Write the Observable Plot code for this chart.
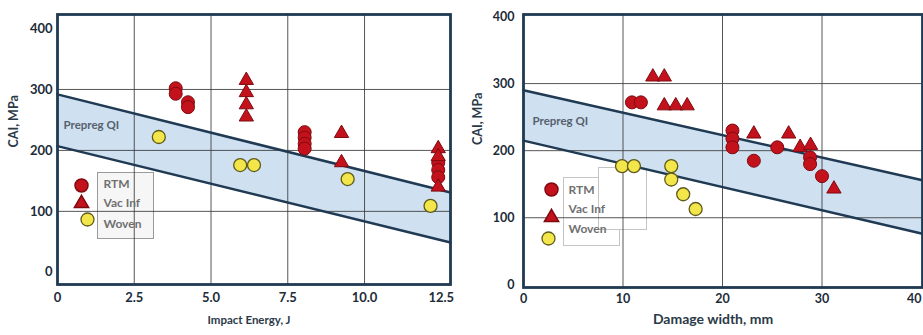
<!DOCTYPE html>
<html>
<head>
<meta charset="utf-8">
<script src="https://cdn.jsdelivr.net/npm/d3@7"></script>
<script src="https://cdn.jsdelivr.net/npm/@observablehq/plot@0.6"></script>
<style>
  html, body { margin: 0; padding: 0; background: #ffffff; }
  #wrap { position: relative; width: 923px; height: 335px; display: flex; }
  .panel { position: relative; z-index: 1; height: 335px; }
  .box { position: absolute; z-index: 0; box-sizing: border-box; }
</style>
</head>
<body>
<div id="wrap">
  <div class="box" style="left:97px;top:172px;width:57px;height:67px;border:1px solid #9a9a9a;background:#f6f6f6;"></div>
  <div class="box" style="left:563px;top:177px;width:57px;height:69px;border:1px solid #c4c4c4;background:#ffffff;"></div>
  <div class="box" style="left:598px;top:167px;width:49px;height:63px;border:1px solid #c4c4c4;background:#ffffff;"></div>
  <div class="box" style="left:599px;top:178px;width:20px;height:51px;background:#ffffff;"></div>
  <div id="left" class="panel" style="width:460px"></div>
  <div id="right" class="panel" style="width:463px"></div>
</div>
<script>
// ---------- Left panel: CAI vs impact energy ----------
const leftXTicks = [0, 2.5, 5, 7.5, 10, 12.5];
const leftYTicks = [0, 100, 200, 300, 400];
const leftGridX = [2.5, 5, 7.5, 10];
const leftGridY = [100, 200, 300];
const leftBandX = [0, 12.8];
const leftBandUpper = [292, 131];
const leftBandLower = [207, 49];
const leftRTMx = [3.85, 3.85, 4.25, 4.25, 8.05, 8.05, 8.05, 8.05, 12.4, 12.4, 12.4];
const leftRTMy = [302, 293, 279, 271, 230, 221, 211, 203, 180, 168, 156];
const leftVacX = [6.15, 6.15, 6.15, 6.15, 9.25, 9.25, 12.4, 12.4, 12.4];
const leftVacY = [315, 295, 275, 255, 228, 180, 203, 190, 140];
const leftWovenX = [3.3, 5.95, 6.4, 9.45, 12.15];
const leftWovenY = [222, 176, 176, 153, 109];

// ---------- Right panel: CAI vs damage width ----------
const rightXTicks = [0, 10, 20, 30, 40];
const rightYTicks = [0, 100, 200, 300, 400];
const rightGridX = [10, 20, 30];
const rightGridY = [100, 200, 300];
const rightBandX = [0, 40.1];
const rightBandUpper = [290, 156];
const rightBandLower = [215, 76];
const rightRTMx = [10.9, 11.8, 21.0, 21.0, 21.0, 23.15, 25.5, 28.8, 28.8, 30.0];
const rightRTMy = [272, 272, 230, 218, 205, 185, 205, 190, 180, 162];
const rightVacX = [13.0, 14.15, 14.15, 15.3, 16.45, 23.15, 26.65, 27.8, 28.85, 31.2];
const rightVacY = [310, 310, 267, 267, 267, 225, 225, 205, 208, 143];
const rightWovenX = [9.9, 11.1, 14.85, 14.85, 16.05, 17.3];
const rightWovenY = [177, 177, 177, 157, 135, 113];

const legendLabels = ["RTM", "Vac Inf", "Woven"];
const bandLabel = "Prepreg QI";

const NAVY = "#1f3a52";
const BAND = "#cfe0f1";
const RED = "#c4121c", RED_S = "#7e0a10";
const YEL = "#f2e64a", YEL_S = "#5f5a1c";
const GRID = "#3a3a3a";

function pts(xs, ys) { return xs.map((x, i) => ({x, y: ys[i]})); }
function band(xs, up, lo) { return xs.map((x, i) => ({x, up: up[i], lo: lo[i]})); }

function panel(cfg) {
  const bd = band(cfg.bandX, cfg.bandUpper, cfg.bandLower);
  const L = cfg.leg;
  return Plot.plot({
    width: cfg.width, height: 335,
    marginLeft: cfg.ml, marginRight: cfg.mr, marginTop: 14, marginBottom: cfg.mb,
    style: {fontFamily: "Lato, 'Open Sans', sans-serif", fontSize: cfg.tickFont, fontWeight: "bold",
            color: "#1d2b38", background: "transparent", overflow: "visible"},
    x: {domain: cfg.xDomain, ticks: cfg.xTicks, tickFormat: cfg.xFmt, tickSize: 0, tickPadding: cfg.xPad, label: null},
    y: {domain: cfg.yDomain, ticks: cfg.yTicks, tickSize: 0, tickPadding: cfg.yPad, label: null},
    marks: [
      Plot.areaY(bd, {x: "x", y1: "lo", y2: "up", fill: BAND}),
      Plot.ruleX(cfg.gridX, {stroke: GRID, strokeWidth: 1, strokeOpacity: 0.85}),
      Plot.ruleY(cfg.gridY, {stroke: GRID, strokeWidth: 1, strokeOpacity: 0.85}),
      Plot.line(bd, {x: "x", y: "up", stroke: NAVY, strokeWidth: 2.5}),
      Plot.line(bd, {x: "x", y: "lo", stroke: NAVY, strokeWidth: 2.5}),
      Plot.frame({stroke: NAVY, strokeWidth: 2.8}),
      Plot.dot(pts(cfg.wovenX, cfg.wovenY), {x: "x", y: "y", r: 6.5, fill: YEL, stroke: YEL_S, strokeWidth: 1.3}),
      Plot.dot(pts(cfg.rtmX, cfg.rtmY), {x: "x", y: "y", r: 6.5, fill: RED, stroke: RED_S, strokeWidth: 1}),
      Plot.dot(pts(cfg.vacX, cfg.vacY), {x: "x", y: "y", r: 5.3, symbol: "triangle", fill: RED, stroke: RED_S, strokeWidth: 1}),
      // legend markers
      Plot.dot([legendLabels[0]], {frameAnchor: "top-left", dx: L.mx, dy: L.m0, r: 6.5, fill: RED, stroke: RED_S}),
      Plot.dot([legendLabels[1]], {frameAnchor: "top-left", dx: L.mx, dy: L.m1, r: 5.3, symbol: "triangle", fill: RED, stroke: RED_S}),
      Plot.dot([legendLabels[2]], {frameAnchor: "top-left", dx: L.yx, dy: L.m2, r: 6.5, fill: YEL, stroke: YEL_S, strokeWidth: 1.3}),
      // legend labels
      ...legendLabels.map((t, i) => Plot.text([t], {frameAnchor: "top-left", dx: L.tx, dy: L.ty[i], text: d => d,
        textAnchor: "start", fontSize: 12, fontWeight: "bold", fill: "#707070"})),
      // band label
      Plot.text([bandLabel], {frameAnchor: "top-left", dx: cfg.bl[0], dy: cfg.bl[1], text: d => d,
        textAnchor: "start", fontSize: 11.5, fontWeight: "bold", fill: "#56616e"}),
      // axis titles
      Plot.text([cfg.xTitle], {frameAnchor: "bottom", dx: cfg.xt[0], dy: cfg.xt[1], text: d => d,
        fontSize: cfg.xTitleFont, fontWeight: "bold", fill: "#2b3a48"}),
      Plot.text([cfg.yTitle], {frameAnchor: "left", dx: cfg.yt[0], dy: cfg.yt[1], text: d => d, rotate: -90,
        fontSize: 12.5, fontWeight: "bold", fill: "#2b3a48"})
    ]
  });
}

document.getElementById("left").append(panel({
  width: 460, ml: 57, mr: 10, mb: 51, tickFont: "13px",
  xDomain: [0, 12.8], yDomain: [-20, 423],
  xTicks: leftXTicks, yTicks: leftYTicks, xFmt: d => d === 0 ? "0" : d.toFixed(1),
  xPad: 8, yPad: 5,
  gridX: leftGridX, gridY: leftGridY,
  bandX: leftBandX, bandUpper: leftBandUpper, bandLower: leftBandLower,
  rtmX: leftRTMx, rtmY: leftRTMy, vacX: leftVacX, vacY: leftVacY, wovenX: leftWovenX, wovenY: leftWovenY,
  leg: {mx: 24, yx: 30, m0: 171, m1: 189, m2: 205, tx: 46, ty: [165, 184, 205]},
  bl: [6, 106], xTitle: "Impact Energy, J", xTitleFont: 11.5, xt: [-5, 39],
  yTitle: "CAI, MPa", yt: [-44, -2]
}));

const rightSvg = panel({
  width: 463, ml: 63, mr: 1, mb: 48, tickFont: "12.5px",
  xDomain: [0, 40.1], yDomain: [-4, 403],
  xTicks: rightXTicks, yTicks: rightYTicks, xFmt: d => String(d),
  xPad: 7, yPad: 9,
  gridX: rightGridX, gridY: rightGridY,
  bandX: rightBandX, bandUpper: rightBandUpper, bandLower: rightBandLower,
  rtmX: rightRTMx, rtmY: rightRTMy, vacX: rightVacX, vacY: rightVacY, wovenX: rightWovenX, wovenY: rightWovenY,
  leg: {mx: 28, yx: 25, m0: 175, m1: 203, m2: 224, tx: 45, ty: [171, 190, 210]},
  bl: [9, 102], xTitle: "Damage width, mm", xTitleFont: 14, xt: [-10, 36],
  yTitle: "CAI, MPa", yt: [-46, -6]
});
// keep the last x tick label inside the picture (right-aligned at the frame edge, as in the reference)
const lastTick = String(rightXTicks[rightXTicks.length - 1]);
d3.select(rightSvg).selectAll("text")
  .filter(function() { return this.textContent === lastTick; })
  .attr("text-anchor", "end");
document.getElementById("right").append(rightSvg);
</script>
</body>
</html>
